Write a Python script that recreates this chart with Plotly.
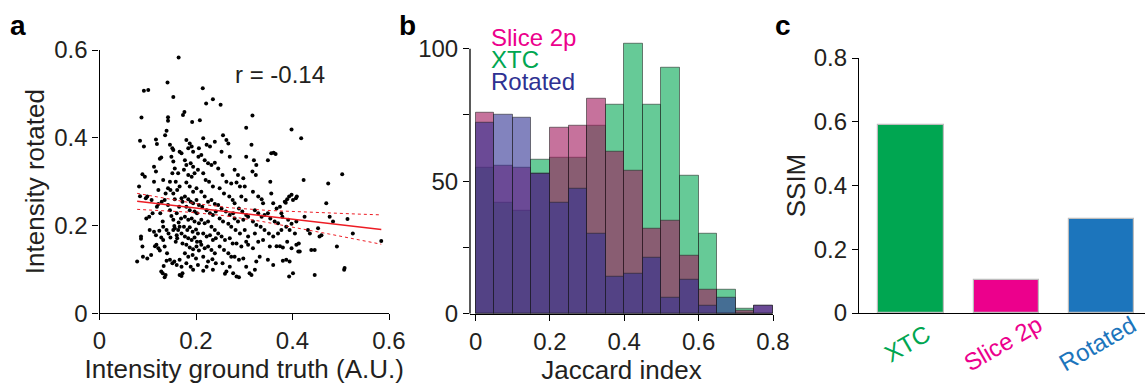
import numpy as np
import plotly.graph_objects as go

# ---------------- data ----------------
# panel a: (intensity ground truth, intensity rotated)
points_a = [
    (0.078,0.118),(0.082,0.289),(0.084,0.393),(0.087,0.446),(0.084,0.267),(0.086,0.170),(0.086,0.175),
    (0.089,0.152),(0.090,0.129),(0.092,0.380),(0.092,0.507),(0.089,0.317),(0.094,0.311),(0.096,0.262),
    (0.101,0.509),(0.097,0.216),(0.099,0.266),(0.103,0.220),(0.099,0.125),(0.107,0.133),(0.104,0.190),
    (0.113,0.186),(0.117,0.178),(0.115,0.153),(0.118,0.156),(0.122,0.148),(0.125,0.143),(0.113,0.334),
    (0.117,0.323),(0.117,0.396),(0.119,0.386),(0.113,0.300),(0.122,0.281),(0.125,0.352),(0.128,0.355),
    (0.126,0.228),(0.131,0.209),(0.132,0.197),(0.124,0.188),(0.128,0.173),(0.132,0.167),(0.135,0.152),
    (0.133,0.108),(0.131,0.091),(0.128,0.095),(0.135,0.082),(0.137,0.087),(0.139,0.120),(0.136,0.406),
    (0.139,0.416),(0.137,0.273),(0.135,0.258),(0.132,0.304),(0.129,0.254),(0.119,0.243),(0.122,0.249),
    (0.110,0.228),(0.108,0.258),
    (0.141,0.526),(0.142,0.447),(0.142,0.439),(0.146,0.384),(0.153,0.372),(0.151,0.376),(0.153,0.493),
    (0.149,0.357),(0.153,0.346),(0.156,0.330),(0.151,0.319),(0.146,0.300),(0.142,0.285),(0.147,0.281),
    (0.153,0.273),(0.156,0.260),(0.142,0.247),(0.146,0.235),(0.149,0.222),(0.153,0.213),(0.155,0.199),
    (0.139,0.190),(0.143,0.182),(0.147,0.173),(0.153,0.190),(0.156,0.194),(0.160,0.178),(0.158,0.163),
    (0.163,0.190),(0.166,0.197),(0.170,0.182),(0.161,0.171),(0.172,0.159),(0.140,0.137),(0.146,0.122),
    (0.151,0.114),(0.155,0.118),(0.160,0.110),(0.166,0.122),(0.170,0.106),(0.166,0.087),(0.170,0.085),
    (0.172,0.091),(0.173,0.452),(0.164,0.583),(0.166,0.368),(0.170,0.365),(0.163,0.319),(0.158,0.300),
    (0.166,0.289),(0.161,0.281),(0.170,0.262),(0.172,0.254),(0.165,0.243),(0.160,0.228),(0.169,0.216),
    (0.164,0.207),
    (0.176,0.459),(0.192,0.436),(0.180,0.395),(0.187,0.387),(0.191,0.380),(0.194,0.368),(0.184,0.376),
    (0.177,0.349),(0.180,0.338),(0.189,0.342),(0.194,0.334),(0.175,0.327),(0.184,0.315),(0.191,0.311),
    (0.197,0.319),(0.204,0.327),(0.180,0.298),(0.187,0.289),(0.194,0.277),(0.201,0.285),(0.177,0.266),
    (0.184,0.260),(0.189,0.254),(0.194,0.251),(0.201,0.258),(0.206,0.247),(0.180,0.243),(0.187,0.235),
    (0.197,0.232),(0.202,0.228),(0.177,0.220),(0.184,0.213),(0.191,0.216),(0.197,0.209),(0.206,0.205),
    (0.175,0.197),(0.182,0.190),(0.187,0.196),(0.193,0.186),(0.200,0.191),(0.204,0.182),(0.177,0.175),
    (0.184,0.171),(0.191,0.167),(0.197,0.173),(0.202,0.163),(0.180,0.156),(0.187,0.150),(0.194,0.146),
    (0.201,0.152),(0.206,0.143),(0.177,0.137),(0.184,0.129),(0.193,0.133),(0.200,0.125),(0.180,0.114),
    (0.189,0.106),(0.194,0.099),(0.204,0.110),(0.208,0.440),(0.206,0.376),(0.205,0.357),
    (0.214,0.513),(0.235,0.488),(0.221,0.478),(0.215,0.399),(0.222,0.384),(0.229,0.380),(0.239,0.391),
    (0.211,0.361),(0.218,0.349),(0.225,0.342),(0.232,0.338),(0.239,0.343),(0.215,0.319),(0.220,0.304),
    (0.227,0.300),(0.235,0.289),(0.211,0.277),(0.218,0.266),(0.225,0.254),(0.232,0.258),(0.239,0.249),
    (0.213,0.243),(0.222,0.235),(0.229,0.228),(0.235,0.224),(0.241,0.232),(0.211,0.213),(0.218,0.205),
    (0.225,0.209),(0.232,0.197),(0.239,0.190),(0.215,0.182),(0.222,0.175),(0.229,0.178),(0.235,0.167),
    (0.241,0.171),(0.211,0.156),(0.218,0.148),(0.225,0.152),(0.232,0.144),(0.239,0.137),(0.215,0.129),
    (0.225,0.118),(0.234,0.123),(0.241,0.114),(0.215,0.097),(0.222,0.106),(0.235,0.099),(0.209,0.163),
    (0.251,0.475),(0.256,0.406),(0.263,0.395),(0.267,0.387),(0.253,0.368),(0.270,0.357),(0.246,0.330),
    (0.255,0.315),(0.263,0.300),(0.273,0.296),(0.249,0.285),(0.258,0.273),(0.269,0.266),(0.276,0.258),
    (0.246,0.247),(0.253,0.239),(0.262,0.232),(0.270,0.224),(0.277,0.228),(0.249,0.216),(0.256,0.209),
    (0.267,0.204),(0.273,0.197),(0.246,0.182),(0.253,0.175),(0.260,0.167),(0.270,0.171),(0.276,0.159),
    (0.249,0.152),(0.258,0.144),(0.267,0.137),(0.273,0.129),(0.255,0.114),(0.263,0.095),(0.270,0.106),
    (0.260,0.090),(0.277,0.091),
    (0.280,0.327),(0.287,0.315),(0.284,0.298),(0.291,0.289),(0.301,0.289),(0.304,0.357),(0.298,0.308),
    (0.294,0.266),(0.303,0.258),(0.280,0.251),(0.289,0.239),(0.296,0.232),(0.304,0.224),(0.280,0.216),
    (0.287,0.209),(0.298,0.213),(0.308,0.220),(0.282,0.190),(0.291,0.182),(0.301,0.190),(0.308,0.175),
    (0.284,0.159),(0.294,0.152),(0.304,0.163),(0.308,0.156),(0.280,0.129),(0.289,0.122),(0.298,0.125),
    (0.304,0.106),(0.284,0.084),(0.289,0.082),(0.311,0.091),(0.315,0.087),(0.304,0.423),
    (0.317,0.451),(0.315,0.384),(0.320,0.349),(0.325,0.338),(0.324,0.315),(0.317,0.323),(0.329,0.266),
    (0.336,0.260),(0.339,0.251),(0.318,0.277),(0.322,0.235),(0.329,0.228),(0.336,0.220),(0.342,0.224),
    (0.318,0.209),(0.325,0.201),(0.334,0.197),(0.342,0.190),(0.322,0.182),(0.329,0.163),(0.339,0.167),
    (0.325,0.118),(0.322,0.099),(0.332,0.129),(0.318,0.148),
    (0.349,0.349),(0.356,0.365),(0.361,0.366),(0.365,0.363),(0.354,0.300),(0.356,0.273),(0.360,0.251),
    (0.367,0.239),(0.374,0.243),(0.377,0.228),(0.349,0.228),(0.354,0.216),(0.363,0.209),(0.370,0.205),
    (0.379,0.220),(0.351,0.182),(0.360,0.175),(0.370,0.182),(0.377,0.190),(0.353,0.152),(0.367,0.153),
    (0.374,0.153),(0.380,0.150),(0.349,0.122),(0.360,0.110),(0.380,0.120),(0.386,0.252),
    (0.398,0.419),(0.384,0.254),(0.389,0.260),(0.393,0.266),(0.398,0.270),(0.401,0.258),(0.407,0.262),
    (0.409,0.266),(0.391,0.213),(0.398,0.204),(0.408,0.209),(0.387,0.197),(0.394,0.190),(0.405,0.182),
    (0.389,0.163),(0.398,0.148),(0.408,0.156),(0.387,0.122),(0.394,0.118),(0.393,0.084),(0.401,0.091),
    (0.413,0.159),(0.412,0.141),
    (0.418,0.399),(0.423,0.304),(0.425,0.220),(0.432,0.190),(0.436,0.182),(0.439,0.144),(0.446,0.144),
    (0.446,0.087),(0.415,0.141),
    (0.453,0.194),(0.456,0.175),(0.460,0.178),(0.474,0.296),(0.477,0.220),(0.484,0.209),(0.470,0.251),
    (0.492,0.152),(0.503,0.317),(0.507,0.099),(0.508,0.103),(0.514,0.215),(0.525,0.182),(0.584,0.165),
]
intensity_gt = [p[0] for p in points_a]
intensity_rot = [p[1] for p in points_a]
r_label = "r = -0.14"
# fitted regression line as drawn in the figure
fit_slope = -0.127
fit_intercept = 0.265

# panel b: histogram counts, bins of width 0.05 from 0 to 0.8
bin_left = [round(0.05 * i, 2) for i in range(16)]
counts_xtc = [55, 42, 39, 58, 59, 59, 71, 79, 102, 79, 93, 52, 30, 9, 2, 0]
counts_slice = [76, 56, 55, 53, 70, 71, 81, 61, 54, 32, 35, 22, 9, 0, 1, 3]
counts_rot = [72, 75, 74, 53, 42, 47, 30, 14, 15, 21, 6, 13, 3, 6, 0, 3]

# panel c: SSIM
methods = ["XTC", "Slice 2p", "Rotated"]
ssim = [0.59, 0.105, 0.295]
method_colors = ["#00A651", "#EC008C", "#1C75BC"]

# ---------------- figure ----------------
FONT = "Arial, 'Liberation Sans', sans-serif"
TXT = "#231F20"
fig = go.Figure()

# panel a scatter
fig.add_trace(go.Scatter(x=intensity_gt, y=intensity_rot, mode="markers",
                         marker=dict(color="black", size=4), xaxis="x", yaxis="y",
                         showlegend=False, hoverinfo="skip"))
# regression line with 95% CI of the mean
xa = np.array(intensity_gt); ya = np.array(intensity_rot)
n = len(xa)
resid = ya - (fit_slope * xa + fit_intercept)
s = np.sqrt(np.sum(resid ** 2) / (n - 2))
xf = np.linspace(xa.min(), xa.max(), 100)
yf = fit_slope * xf + fit_intercept
se = s * np.sqrt(1 / n + (xf - xa.mean()) ** 2 / np.sum((xa - xa.mean()) ** 2))
fig.add_trace(go.Scatter(x=xf, y=yf, mode="lines", line=dict(color="#ED1C24", width=1.5),
                         xaxis="x", yaxis="y", showlegend=False, hoverinfo="skip"))
for sign in (1, -1):
    fig.add_trace(go.Scatter(x=xf, y=yf + sign * 1.96 * se, mode="lines",
                             line=dict(color="#ED1C24", width=1, dash="dot"),
                             xaxis="x", yaxis="y", showlegend=False, hoverinfo="skip"))

# panel b histograms
centers = [b + 0.025 for b in bin_left]
for counts, col in [(counts_xtc, "rgba(0,166,81,0.6)"),
                    (counts_slice, "rgba(160,20,90,0.6)"),
                    (counts_rot, "rgba(46,49,146,0.6)")]:
    fig.add_trace(go.Bar(x=centers, y=counts, width=0.05, marker=dict(color=col,
                         line=dict(color="rgba(30,30,30,0.55)", width=1)),
                         xaxis="x2", yaxis="y2", showlegend=False, hoverinfo="skip"))

# panel c bars
fig.add_trace(go.Bar(x=list(range(len(methods))), y=ssim, width=0.69,
                     marker=dict(color=method_colors, line=dict(color="#BDBDBD", width=1.2)),
                     xaxis="x3", yaxis="y3", showlegend=False, hoverinfo="skip"))

axis_common = dict(showline=True, linecolor="black", linewidth=1.3, ticks="outside",
                   ticklen=6, tickwidth=1.3, tickcolor="black", showgrid=False, zeroline=False,
                   automargin=False,
                   tickfont=dict(family=FONT, size=24, color=TXT),
                   title_font=dict(family=FONT, size=26, color=TXT))

W, H = 1145, 385
def px(x):
    return x / W
def py(y):
    return (H - y) / H

fig.update_layout(
    width=W, height=H, margin=dict(l=0, r=0, t=0, b=0, autoexpand=False),
    paper_bgcolor="white", plot_bgcolor="white", barmode="overlay", bargap=0,
    font=dict(family=FONT, color=TXT),
    xaxis=dict(domain=[px(99.5), px(389)], range=[0, 0.6], tickvals=[0, 0.2, 0.4, 0.6],
               ticktext=["0", "0.2", "0.4", "0.6"], anchor="y",
               title=dict(text="Intensity ground truth (A.U.)", standoff=1), **axis_common),
    yaxis=dict(domain=[py(313.3), py(50)], range=[0, 0.6], tickvals=[0, 0.2, 0.4, 0.6],
               ticktext=["0", "0.2", "0.4", "0.6"], anchor="x",
               title=dict(text="Intensity rotated", standoff=2), **axis_common),
    xaxis2=dict(domain=[px(470), px(773)], range=[-0.015, 0.8],
                tickvals=[0, 0.2, 0.4, 0.6, 0.8], ticktext=["0", "0.2", "0.4", "0.6", "0.8"],
                anchor="y2", title=dict(text="Jaccard index", standoff=1), **axis_common),
    yaxis2=dict(domain=[py(313.7), py(313.7 - 103 * 2.65)], range=[0, 103],
                tickvals=[0, 25, 50, 75, 100], ticktext=["0", "", "50", "", "100"],
                anchor="x2", **{**axis_common, "showline": False}),
    xaxis3=dict(domain=[px(859), 1.0], range=[-0.55, 2.46], tickvals=[0, 1, 2],
                ticktext=["", "", ""], anchor="y3", **{**axis_common, "ticks": ""}),
    yaxis3=dict(domain=[py(313), py(58)], range=[0, 0.8], tickvals=[0, 0.2, 0.4, 0.6, 0.8],
                ticktext=["0", "0.2", "0.4", "0.6", "0.8"], anchor="x3",
                title=dict(text="SSIM", standoff=0), **axis_common),
)

# y axis line for panel b up to 100 only
fig.add_shape(type="line", xref="x2 domain", yref="y2", x0=0, x1=0, y0=0, y1=100,
              line=dict(color="black", width=1.3))

ann = []
for letter, x in [("a", 18), ("b", 407), ("c", 783)]:
    ann.append(dict(text=f"<b>{letter}</b>", x=px(x), y=py(25), xref="paper", yref="paper",
                    showarrow=False, font=dict(family=FONT, size=28, color="black"),
                    xanchor="center", yanchor="middle"))
ann.append(dict(text=r_label, x=px(280), y=py(75), xref="paper", yref="paper", showarrow=False,
                font=dict(family=FONT, size=24, color=TXT), xanchor="center", yanchor="middle"))
for name, col, y in [("Slice 2p", "#EC008C", 37), ("XTC", "#00A651", 59), ("Rotated", "#2E3192", 82)]:
    ann.append(dict(text=name, x=px(489), y=py(y), xref="paper", yref="paper", showarrow=False,
                    font=dict(family=FONT, size=24, color=col), xanchor="left", yanchor="middle"))
for i, (name, col) in enumerate(zip(methods, method_colors)):
    ann.append(dict(text=name, x=i, y=py(343), xref="x3", yref="paper", showarrow=False,
                    textangle=-30, xshift=-4, font=dict(family=FONT, size=24, color=col),
                    xanchor="center", yanchor="middle"))
fig.update_layout(annotations=ann)

fig.write_html("out.html", config={"displayModeBar": False},
               post_script="document.body.style.margin='0px';document.body.style.overflow='hidden';")
